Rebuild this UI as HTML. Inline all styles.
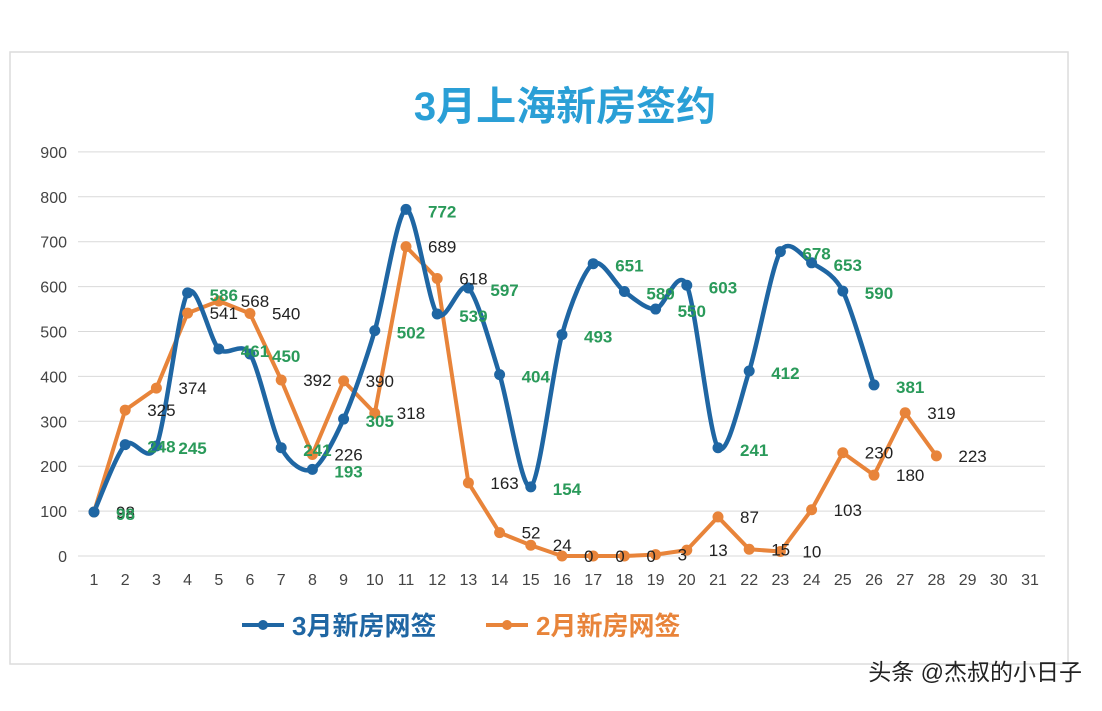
<!DOCTYPE html>
<html><head><meta charset="utf-8"><style>
body{margin:0;background:#fff;width:1102px;height:706px;overflow:hidden;font-family:"Liberation Sans","Noto Sans CJK SC",sans-serif;}
svg text{font-family:"Liberation Sans","Noto Sans CJK SC",sans-serif;}
</style></head><body>
<svg id="chart" width="1102" height="706" xmlns="http://www.w3.org/2000/svg">
<rect x="10" y="52" width="1058" height="612" fill="#fff" stroke="#dcdcdc" stroke-width="1.5"/>
<text x="565" y="120" text-anchor="middle" font-size="40" font-weight="bold" fill="#2a9fd6">3月上海新房签约</text>
<g id="grid"></g><g id="axes"></g><g id="series"></g><g id="labels"></g>
<g>
<line x1="242" y1="625" x2="284" y2="625" stroke="#1f66a3" stroke-width="4"/><circle cx="263" cy="625" r="5" fill="#1f66a3"/>
<text x="292" y="635" font-size="26" fill="#1f66a3" font-weight="bold">3月新房网签</text>
<line x1="486" y1="625" x2="528" y2="625" stroke="#e8843a" stroke-width="4"/><circle cx="507" cy="625" r="5" fill="#e8843a"/>
<text x="536" y="635" font-size="26" fill="#e8843a" font-weight="bold">2月新房网签</text>
</g>
<text x="1082" y="680" text-anchor="end" font-size="23" fill="#222">头条 @杰叔的小日子</text>
</svg>
<script>
const days=[];for(let i=1;i<=31;i++)days.push(i);
const yTicks=[0,100,200,300,400,500,600,700,800,900];
const march=[98,248,245,586,461,450,241,193,305,502,772,539,597,404,154,493,651,589,550,603,241,412,678,653,590,381];
const feb=[98,325,374,541,568,540,392,226,390,318,689,618,163,52,24,0,0,0,3,13,87,15,10,103,230,180,319,223];
const NS='http://www.w3.org/2000/svg';
const X=d=>94+(d-1)*31.2, Y=v=>556-v*0.449;
function mk(tag,attrs,parent,txt){const e=document.createElementNS(NS,tag);for(const k in attrs)e.setAttribute(k,attrs[k]);if(txt!==undefined)e.textContent=txt;document.getElementById(parent).appendChild(e);return e;}
yTicks.forEach(t=>{
 const l=mk('line',{x1:78,x2:1045,y1:Y(t),y2:Y(t),stroke:'#d9d9d9','stroke-width':1},'grid');
 
 
 const tx=mk('text',{x:67,y:Y(t)+6,'text-anchor':'end','font-size':16,fill:'#444'},'axes',String(t));
 
 
});
days.forEach(d=>{
 const tx=mk('text',{x:X(d),y:585,'text-anchor':'middle','font-size':16,fill:'#444'},'axes',String(d));
 
 
});
const fp=feb.map((v,i)=>[X(i+1),Y(v)]);
const fl=mk('path',{d:'M'+fp.map(p=>p.join(',')).join('L'),fill:'none',stroke:'#e8843a','stroke-width':4,'stroke-linejoin':'round'},'series');


const mp=march.map((v,i)=>[X(i+1),Y(v)]);
let d='M'+mp[0].join(',');
for(let i=0;i<mp.length-1;i++){const p0=mp[Math.max(i-1,0)],p1=mp[i],p2=mp[i+1],p3=mp[Math.min(i+2,mp.length-1)];
 const c1=[p1[0]+(p2[0]-p0[0])/7,p1[1]+(p2[1]-p0[1])/7],c2=[p2[0]-(p3[0]-p1[0])/7,p2[1]-(p3[1]-p1[1])/7];
 d+='C'+c1.join(',')+' '+c2.join(',')+' '+p2.join(',');}
const ml=mk('path',{d:d,fill:'none',stroke:'#1f66a3','stroke-width':4.5},'series');


fp.forEach((p,i)=>{const c=mk('circle',{cx:p[0],cy:p[1],r:5.5,fill:'#e8843a'},'series');
 
 
 const t=mk('text',{x:p[0]+22,y:p[1]+6,'font-size':17,fill:'#222'},'labels',String(feb[i]));
 
 });
mp.forEach((p,i)=>{const c=mk('circle',{cx:p[0],cy:p[1],r:5.5,fill:'#1f66a3'},'series');
 
 
 const t=mk('text',{x:p[0]+22,y:p[1]+8,'font-size':17,'font-weight':'bold',fill:'#2a9a5a'},'labels',String(march[i]));
 
 });
</script>
</body></html>
